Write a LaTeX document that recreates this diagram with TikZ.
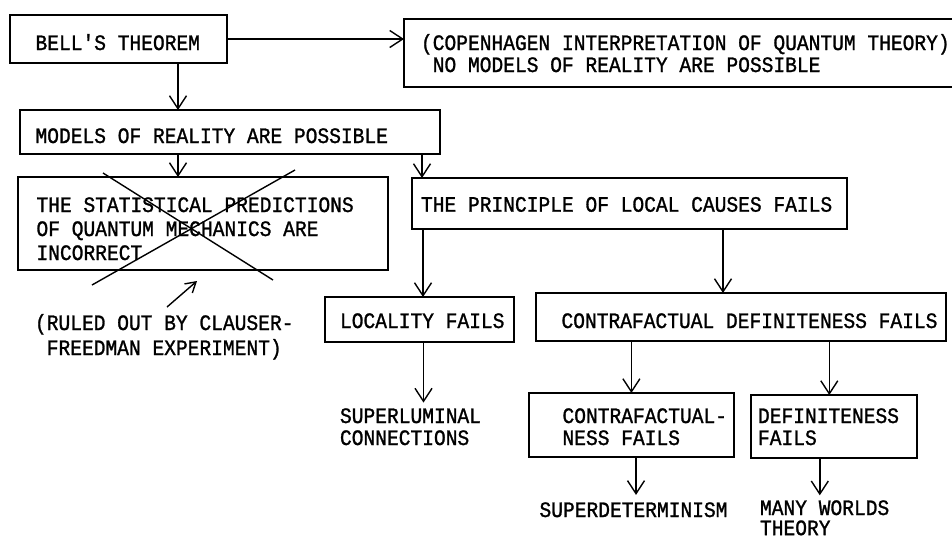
\documentclass[tikz,border=0pt]{standalone}
\usepackage{fontspec}
\newfontfamily\tw{Liberation Mono}[FakeStretch=0.89,FakeBold=1.2]
\usetikzlibrary{arrows.meta,calc}
\newcommand\ml[2][23]{{\tw\fontsize{22}{#1}\selectfont\begin{tabular}[t]{@{}l@{}}#2\end{tabular}}}
\tikzset{
  box/.style={draw, line width=1.8pt, inner sep=0pt, outer sep=0pt, anchor=north west},
  txt/.style={inner sep=0pt, outer sep=0pt, anchor=base west},
  arr/.style={line width=1.4pt, -{Straight Barb[length=13pt,width=17pt,line width=1.4pt]}},
  cross/.style={line width=1.4pt},
}
\begin{document}
\begin{tikzpicture}[x=1pt,y=-1pt]
\useasboundingbox (0,0) rectangle (952,539);
\fill[white] (0,0) rectangle (952,539);
\clip (0,0) rectangle (952,539);
% boxes
\node[box, minimum width=217pt, minimum height=48pt] (b1) at (10,15) {};
\node[box, minimum width=560pt, minimum height=68pt] (b2) at (404,19) {};
\node[box, minimum width=420pt, minimum height=44pt] (b3) at (20,110) {};
\node[box, minimum width=370pt, minimum height=93pt] (b4) at (18,177) {};
\node[box, minimum width=435pt, minimum height=51pt] (b5) at (412,178) {};
\node[box, minimum width=189pt, minimum height=45pt] (b6) at (325,297) {};
\node[box, minimum width=410pt, minimum height=48pt] (b7) at (536,293) {};
\node[box, minimum width=205pt, minimum height=64pt] (b8) at (529,393) {};
\node[box, minimum width=166pt, minimum height=63pt] (b9) at (751,395) {};
% texts
\node[txt] (t1) at (35.5,50) {\ml{BELL'S THEOREM}};
\node[txt] (t2) at (421,50) {\ml[22]{(COPENHAGEN INTERPRETATION OF QUANTUM THEORY)\\\hphantom{N}NO MODELS OF REALITY ARE POSSIBLE}};
\node[txt] (t3) at (35.5,143) {\ml{MODELS OF REALITY ARE POSSIBLE}};
\node[txt] (t4) at (36.5,212) {\ml[24]{THE STATISTICAL PREDICTIONS\\OF QUANTUM MECHANICS ARE\\INCORRECT}};
\node[txt] (tr) at (35,330) {\ml[25]{(RULED OUT BY CLAUSER-\\\hphantom{N}FREEDMAN EXPERIMENT)}};
\node[txt] (t5) at (421,211.7) {\ml{THE PRINCIPLE OF LOCAL CAUSES FAILS}};
\node[txt] (t6) at (340,328) {\ml{LOCALITY FAILS}};
\node[txt] (t7) at (561.5,328) {\ml{CONTRAFACTUAL DEFINITENESS FAILS}};
\node[txt] (tsl) at (340,423) {\ml[22]{SUPERLUMINAL\\CONNECTIONS}};
\node[txt] (t8) at (562.5,423) {\ml[22]{CONTRAFACTUAL-\\NESS FAILS}};
\node[txt] (t9) at (758,423) {\ml[22]{DEFINITENESS\\FAILS}};
\node[txt] (tsd) at (539.5,517) {\ml{SUPERDETERMINISM}};
\node[txt] (tmw) at (760,515) {\ml[18]{MANY WORLDS\\THEORY}};
% cross over b4
\draw[cross] (103,173) -- (273,280);
\draw[cross] (295,170) -- (92,285);
% connectors
\draw[arr] (b1.east) -- (b1.east -| b2.west);
\draw[arr] ($(b1.south west)+(168,0)$) coordinate (p1) -- (p1 |- b3.north);
\draw[arr] ($(b3.south west)+(158,0)$) coordinate (p2) -- (p2 |- b4.north);
\draw[arr] ($(b3.south west)+(402,0)$) coordinate (p3) -- (p3 |- b5.north);
\draw[arr] ($(b5.south west)+(11,0)$) coordinate (p4) -- (p4 |- b6.north);
\draw[arr] ($(b5.south west)+(311,0)$) coordinate (p5) -- (p5 |- b7.north);
\draw[arr, shorten >=5pt] ($(b6.south west)+(98.5,0)$) coordinate (p6) -- (p6 |- tsl.north);
\draw[arr] ($(b7.south west)+(95.4,0)$) coordinate (p7) -- (p7 |- b8.north);
\draw[arr] ($(b7.south west)+(293.3,0)$) coordinate (p8) -- (p8 |- b9.north);
\draw[arr, shorten >=6pt] ($(b8.south west)+(107,0)$) coordinate (p9) -- (p9 |- tsd.north);
\draw[arr, shorten >=5pt] ($(b9.south west)+(68.8,0)$) coordinate (p10) -- (p10 |- tmw.north);
\coordinate (rs) at (167,307);
\coordinate (re) at (197,281);
\draw[line width=1.4pt, -{Straight Barb[length=10pt,width=12pt,line width=1.4pt]}] (rs) -- (re);
\end{tikzpicture}
\end{document}
